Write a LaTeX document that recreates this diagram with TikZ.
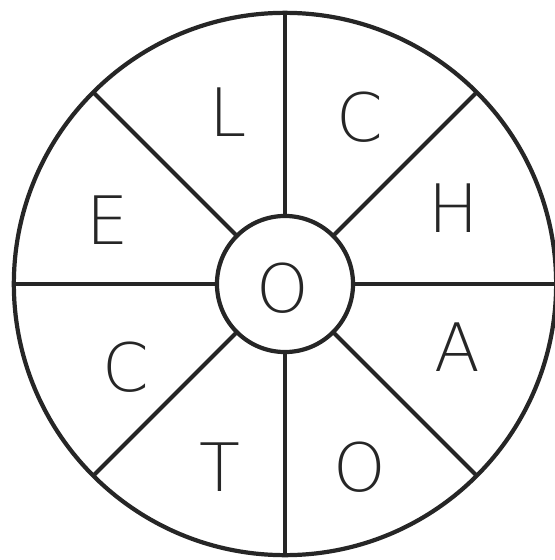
\documentclass[tikz,border=0pt]{standalone}
\usepackage{fontspec}
\newfontfamily\handfont{DejaVu Sans}[UprightFont=* ExtraLight]
\usepackage{tikz}

\tikzset{
  wheel/.style={draw=black!85,circle,inner sep=0pt,outer sep=0pt},
  letter/.style={text=black!85,font=\handfont\fontsize{19}{21}\selectfont,inner sep=0pt}
}

\begin{document}
\begin{tikzpicture}[x=0.01cm,y=0.01cm,line width=1.2pt]
  \useasboundingbox (-285,-276) rectangle (270,284);
  \node[wheel,minimum size=5.42cm] (rim) at (0,0) {};
  \node[wheel,minimum size=1.36cm] (hub) at (0,0) {};
  \node[letter] (centre) at (-2,-4) {O};
  \draw[black!85] (hub.0) -- (rim.0);
  \draw[black!85] (hub.45) -- (rim.45);
  \draw[black!85] (hub.90) -- (rim.90);
  \draw[black!85] (hub.135) -- (rim.135);
  \draw[black!85] (hub.180) -- (rim.180);
  \draw[black!85] (hub.225) -- (rim.225);
  \draw[black!85] (hub.270) -- (rim.270);
  \draw[black!85] (hub.315) -- (rim.315);
  \node[letter] (letterL) at (-57,172) {L};
  \node[letter] (letterC) at (75,167) {C};
  \node[letter] (letterH) at (169,76) {H};
  \node[letter] (letterE) at (-177,64) {E};
  \node[letter] (letterA) at (172,-63) {A};
  \node[letter] (letterCc) at (-159,-83) {C};
  \node[letter] (letterT) at (-65,-183) {T};
  \node[letter] (letterO) at (75,-183) {O};
\end{tikzpicture}
\end{document}
